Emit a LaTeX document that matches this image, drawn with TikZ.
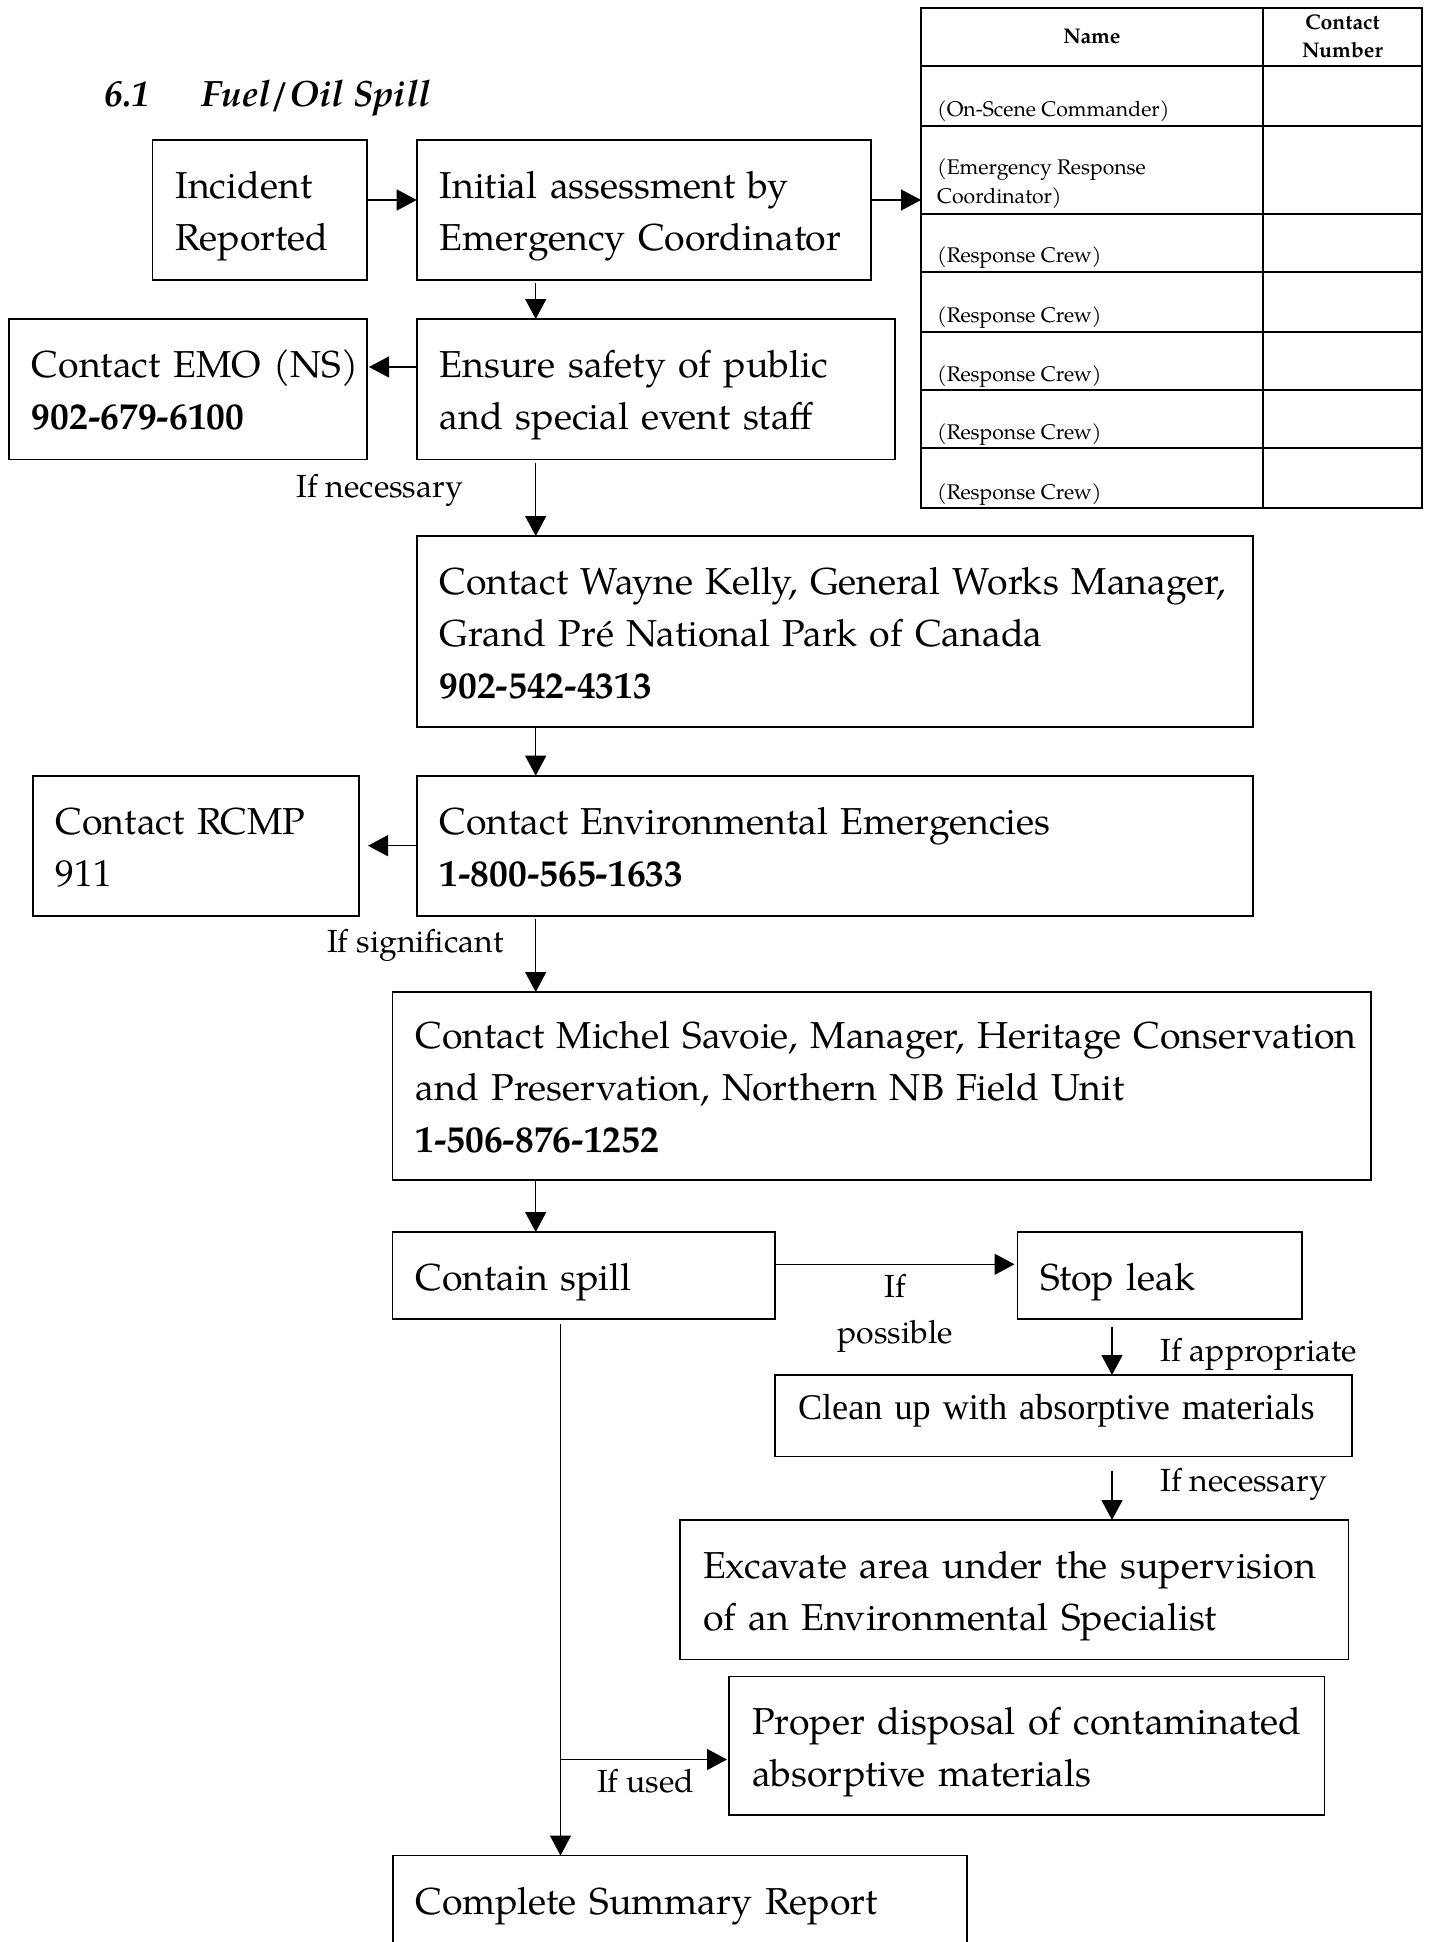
\documentclass[tikz,border=0pt]{standalone}
\usepackage{fontspec}
\setmainfont{TeX Gyre Pagella}
\newfontfamily\timesfont{Liberation Serif}
\usetikzlibrary{arrows.meta}
\newcommand\tstrut{\rule{0pt}{20.5pt}}
\newcommand\bstrut{\rule[-6pt]{0pt}{6pt}}
\newcommand\flowbox[7][]{%
  \pgfmathsetmacro\bw{(#5-#3)/2}%
  \pgfmathsetmacro\bh{(#6-#4)/2}%
  \pgfmathsetmacro\tw{(#5-#3)/2-23}%
  \node[box,#1,anchor=north west,minimum width=\bw pt,minimum height=\bh pt,text width=\tw pt] (#2) at (#3,#4) {\tstrut #7\bstrut};}
\begin{document}
\begin{tikzpicture}[x=0.5pt,y=-0.5pt,
  box/.style={draw, line width=0.85pt, inner xsep=11.5pt, inner ysep=0pt, outer sep=0pt, align=left, font=\fontsize{18.75}{26}\selectfont},
  tbox/.style={line width=0.55pt, font=\fontsize{18.1}{26}\selectfont\timesfont},
  arr/.style={line width=0.7pt, -{Triangle[length=10pt,width=10.5pt]}},
  lbl/.style={inner sep=0pt, font=\fontsize{16}{23}\selectfont},
  tcell/.style={inner sep=0pt, anchor=base west, font=\fontsize{10.6}{14.5}\selectfont},
  thead/.style={inner sep=0pt, anchor=base, align=center, font=\fontsize{10.6}{13.65}\selectfont\bfseries},
  tline/.style={line width=0.85pt},
  ttl/.style={inner sep=0pt, anchor=base west, font=\fontsize{18.3}{24}\selectfont\bfseries\itshape}]
\useasboundingbox (0,0) rectangle (1429,1942);
\clip (0,0) rectangle (1429,1942);

% title
\node[ttl] (secnum) at (104,107) {6.1};
\node[ttl] (sectitle) at (200.6,107) {Fuel/Oil Spill};

% contact table
\node[draw, tline, inner sep=0pt, outer sep=0pt, anchor=north west, minimum width=250.65pt, minimum height=249.7pt] (table) at (921,8.3) {};
\draw[tline] (1262.7,8.3) -- (1262.7,507.7);
\foreach \yy in {65.7,126,213.7,271.7,331.7,390,448.3}
  \draw[tline] (921,\yy) -- (1422.3,\yy);
\node[thead] (hname) at (1092,43.3) {Name};
\node[thead] (hnum) at (1342.5,57.3) {Contact\\Number};
\node[tcell] (r1) at (936.7,116.7) {(On-Scene Commander)};
\node[tcell] (r2a) at (936.7,175) {(Emergency Response};
\node[tcell] (r2b) at (936.7,204) {Coordinator)};
\node[tcell] (r3) at (936.7,263) {(Response Crew)};
\node[tcell] (r4) at (936.7,322.7) {(Response Crew)};
\node[tcell] (r5) at (936.7,381) {(Response Crew)};
\node[tcell] (r6) at (936.7,439.3) {(Response Crew)};
\node[tcell] (r7) at (936.7,499) {(Response Crew)};

% boxes
\flowbox{inc}{152.5}{140}{367}{280}{Incident\\Reported}
\flowbox{init}{416.7}{140}{871}{280}{Initial assessment by\\Emergency Coordinator}
\flowbox{emo}{9}{319}{367}{459.5}{\mbox{Contact EMO (NS)}\\\textbf{902-679-6100}}
\flowbox{ens}{416.7}{319}{895}{459.5}{Ensure safety of public\\and special event staff}
\flowbox{wayne}{416.7}{536}{1253}{727}{\mbox{Contact Wayne Kelly, General Works Manager,}\\Grand Pr\'e National Park of Canada\\\textbf{902-542-4313}}
\flowbox{ee}{416.7}{775.7}{1253}{915.7}{Contact Environmental Emergencies\\\textbf{1-800-565-1633}}
\flowbox{rcmp}{32.9}{775.7}{359}{915.7}{Contact RCMP\\911}
\flowbox{mich}{392.5}{992}{1371}{1180}{\mbox{Contact Michel Savoie, Manager, Heritage Conservation}\\\mbox{and Preservation, Northern NB Field Unit}\\\textbf{1-506-876-1252}}
\flowbox{cont}{392.5}{1232}{775}{1319}{Contain spill}
\flowbox{stop}{1017.5}{1232}{1302}{1319}{Stop leak}
\flowbox[tbox]{clean}{775}{1375}{1352}{1456.7}{\mbox{Clean up with absorptive materials}\rule[-17pt]{0pt}{17pt}}
\flowbox{exc}{680}{1520}{1348.5}{1659.5}{\mbox{Excavate area under the supervision}\\of an Environmental Specialist}
\flowbox{disp}{729}{1676.5}{1324.5}{1815}{\mbox{Proper disposal of contaminated}\\absorptive materials}
\flowbox{summ}{392.8}{1855.5}{966.7}{1944}{Complete Summary Report}

% helper coordinates
\coordinate (spine) at (535.7,0);
\coordinate (spine2) at (1112,0);
\coordinate (spine3) at (560.5,0);
\coordinate (ytop) at (0,200);
\coordinate (yemo) at (0,367);
\coordinate (ycs) at (0,1264.3);
\coordinate (br) at (560.5,1759.5);

% connectors
\draw[arr] (inc.east |- ytop) -- (init.west |- ytop);
\draw[arr] (init.east |- ytop) -- (table.west |- ytop);
\draw[arr, shorten <=1.5pt] (init.south -| spine) -- (ens.north -| spine);
\draw[arr, shorten >=1pt] (ens.west |- yemo) -- (emo.east |- yemo);
\draw[arr, shorten <=1.5pt] (ens.south -| spine) -- (wayne.north -| spine);
\draw[arr] (wayne.south -| spine) -- (ee.north -| spine);
\draw[arr, shorten >=4.5pt] (ee.west) -- (rcmp.east |- ee.west);
\draw[arr, shorten <=1.5pt] (ee.south -| spine) -- (mich.north -| spine);
\draw[arr] (mich.south -| spine) -- (cont.north -| spine);
\draw[arr, shorten >=1.5pt] (cont.east |- ycs) -- (stop.west |- ycs);
\draw[arr, shorten <=3.75pt] (stop.south -| spine2) -- (clean.north -| spine2);
\draw[arr, shorten <=7pt] (clean.south -| spine2) -- (exc.north -| spine2);
\draw[arr, shorten <=2.5pt] (cont.south -| spine3) -- (summ.north -| spine3);
\draw[arr, shorten >=1pt] (br) -- (disp.west |- br);

% labels
\node[lbl, anchor=base west] (l1) at (296,497) {If necessary};
\node[lbl, anchor=base west] (l2) at (326.8,952.7) {If significant};
\node[lbl, anchor=base, align=center] (l3) at (895,1343) {If\\possible};
\node[lbl, anchor=base west] (l4) at (1160,1361.7) {If appropriate};
\node[lbl, anchor=base west] (l5) at (1160,1491.7) {If necessary};
\node[lbl, anchor=base west] (l6) at (596.7,1792) {If used};
\end{tikzpicture}
\end{document}
